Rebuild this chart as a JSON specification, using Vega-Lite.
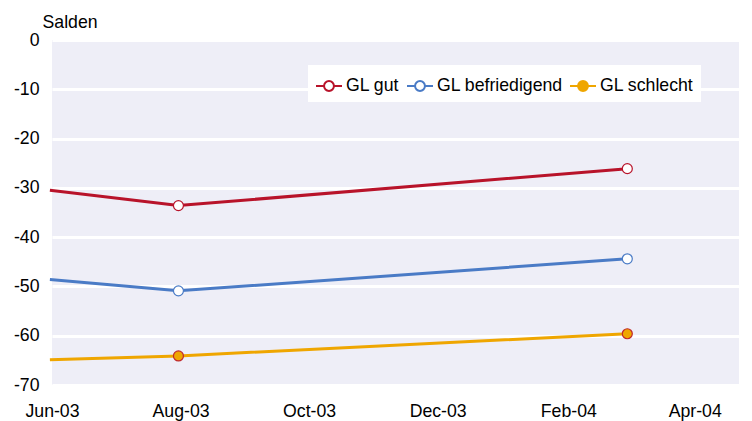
{
  "$schema": "https://vega.github.io/schema/vega-lite/v6.json",
  "width": 687,
  "height": 345,
  "autosize": "none",
  "padding": {"left": 52, "top": 40, "right": 13, "bottom": 36},
  "background": "white",
  "config": {
    "font": "Liberation Sans",
    "view": {"fill": "#EEEEF7", "stroke": null}
  },
  "data": {
    "values": [
      {"date": "2003-05-31T00:00:00", "series": "GL gut", "value": -30.5},
      {"date": "2003-07-31T00:00:00", "series": "GL gut", "value": -33.6},
      {"date": "2004-02-29T00:00:00", "series": "GL gut", "value": -26.1},
      {"date": "2003-05-31T00:00:00", "series": "GL befriedigend", "value": -48.6},
      {"date": "2003-07-31T00:00:00", "series": "GL befriedigend", "value": -50.9},
      {"date": "2004-02-29T00:00:00", "series": "GL befriedigend", "value": -44.4},
      {"date": "2003-05-31T00:00:00", "series": "GL schlecht", "value": -64.9},
      {"date": "2003-07-31T00:00:00", "series": "GL schlecht", "value": -64.1},
      {"date": "2004-02-29T00:00:00", "series": "GL schlecht", "value": -59.6}
    ]
  },
  "encoding": {
    "x": {
      "field": "date",
      "type": "temporal",
      "scale": {"domain": [{"year": 2003, "month": 6, "date": 1}, {"year": 2004, "month": 4, "date": 22}]},
      "axis": {
        "title": null,
        "format": "%b-%y",
        "values": [
          {"year": 2003, "month": 6, "date": 1},
          {"year": 2003, "month": 8, "date": 1},
          {"year": 2003, "month": 10, "date": 1},
          {"year": 2003, "month": 12, "date": 1},
          {"year": 2004, "month": 2, "date": 1},
          {"year": 2004, "month": 4, "date": 1}
        ],
        "grid": false,
        "domain": false,
        "ticks": false,
        "labelFlush": false,
        "labelPadding": 17,
        "labelFontSize": 17.7,
        "labelColor": "black"
      }
    },
    "y": {
      "field": "value",
      "type": "quantitative",
      "scale": {"domain": [-70, 0], "nice": false},
      "axis": {
        "title": "Salden",
        "titleAngle": 0,
        "titleAlign": "left",
        "titleBaseline": "alphabetic",
        "titleX": -10,
        "titleY": -13,
        "titleFontSize": 17.7,
        "titleFontWeight": "normal",
        "titleColor": "black",
        "values": [0, -10, -20, -30, -40, -50, -60, -70],
        "labelExpr": "'' + datum.value",
        "grid": true,
        "gridColor": "white",
        "gridWidth": 3,
        "gridOpacity": 1,
        "domain": false,
        "ticks": false,
        "labelPadding": 13,
        "labelFontSize": 17.7,
        "labelColor": "black"
      }
    }
  },
  "layer": [
    {
      "mark": {"type": "line", "strokeWidth": 3, "clip": false},
      "encoding": {
        "stroke": {
          "field": "series",
          "type": "nominal",
          "sort": null,
          "scale": {
            "domain": ["GL gut", "GL befriedigend", "GL schlecht"],
            "range": ["#B8132A", "#4A7BC6", "#EFA600"]
          },
          "legend": {
            "title": null,
            "orient": "none",
            "direction": "horizontal",
            "legendX": 256,
            "legendY": 25,
            "fillColor": "white",
            "padding": 7,
            "columnPadding": 3,
            "labelFontSize": 17.7,
            "labelColor": "black",
            "labelOffset": 3,
            "symbolSize": 676,
            "symbolStrokeWidth": 2,
            "symbolType": "M-1,0L-0.38,0M0.38,0L1,0M0.38,0A0.38,0.38,0,1,1,-0.38,0A0.38,0.38,0,1,1,0.38,0Z"
          }
        }
      }
    },
    {
      "transform": [{"filter": "month(datum.date) != 4"}],
      "mark": {"type": "point", "filled": true, "size": 100, "strokeWidth": 1.2, "opacity": 1},
      "encoding": {
        "fill": {
          "field": "series",
          "type": "nominal",
          "sort": null,
          "scale": {
            "domain": ["GL gut", "GL befriedigend", "GL schlecht"],
            "range": ["#FFFFFF", "#FFFFFF", "#EFA600"]
          },
          "legend": {
            "title": null,
            "orient": "none",
            "direction": "horizontal",
            "legendX": 256,
            "legendY": 25,
            "fillColor": "white",
            "padding": 7,
            "columnPadding": 3,
            "labelFontSize": 17.7,
            "labelColor": "black",
            "labelOffset": 3,
            "symbolSize": 676,
            "symbolStrokeWidth": 2,
            "symbolType": "M-1,0L-0.38,0M0.38,0L1,0M0.38,0A0.38,0.38,0,1,1,-0.38,0A0.38,0.38,0,1,1,0.38,0Z"
          }
        },
        "stroke": {
          "condition": {"test": "datum.series === 'GL schlecht'", "value": "#C0282D"},
          "field": "series",
          "type": "nominal",
          "sort": null
        }
      }
    }
  ]
}
